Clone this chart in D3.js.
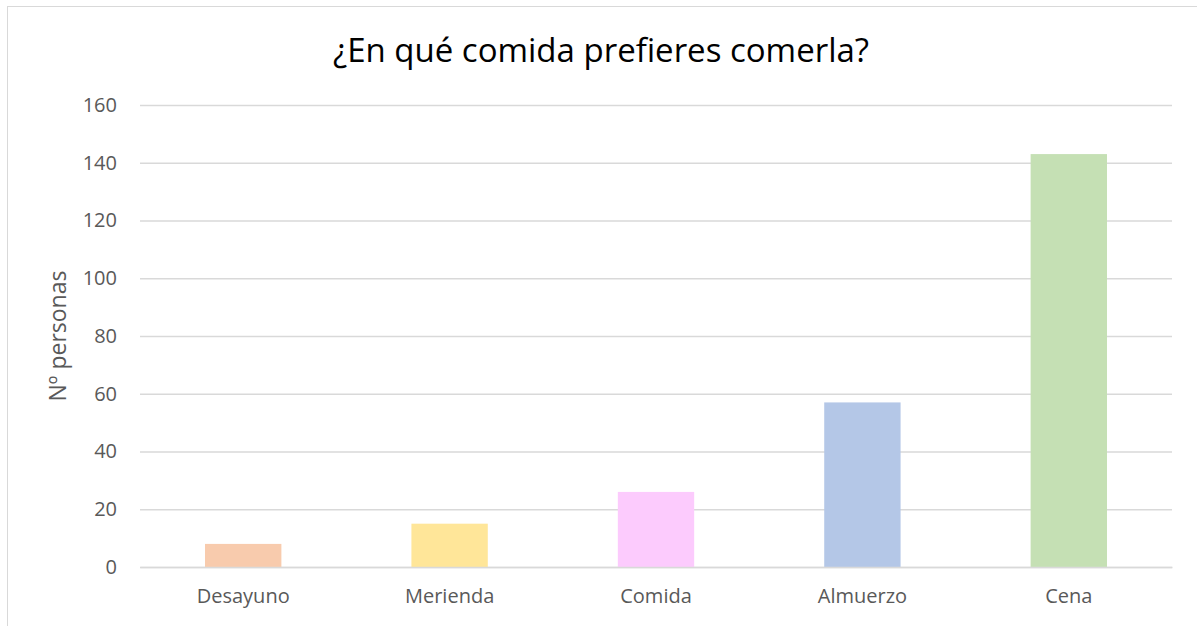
<!DOCTYPE html>
<html>
<head>
<meta charset="utf-8">
<script src="https://cdn.jsdelivr.net/npm/d3@7"></script>
<style>
  body { margin: 0; background: #fff; }
  svg { display: block; }
  svg text { font-family: "Open Sans", "Noto Sans", sans-serif; }
</style>
</head>
<body>
<svg id="chart"></svg>
<script>
const categories = ['Desayuno', 'Merienda', 'Comida', 'Almuerzo', 'Cena'];
const values = [8, 15, 26, 57, 143];
const colors = ['#F8CBAD', '#FFE699', '#FCCBFD', '#B4C7E7', '#C5E0B4'];
const yTicks = [0, 20, 40, 60, 80, 100, 120, 140, 160];

const width = 1197;
const height = 626;
const margin = {top: 105, right: 25, bottom: 59, left: 140};

const svg = d3.select('#chart')
    .attr('width', width)
    .attr('height', height);

// chart frame
svg.append('rect')
    .attr('x', 7.5).attr('y', 6.5)
    .attr('width', width).attr('height', height)
    .attr('fill', '#fff')
    .attr('stroke', '#d9d9d9')
    .attr('stroke-width', 1);

const x = d3.scaleBand()
    .domain(categories)
    .range([margin.left, width - margin.right])
    .paddingInner(0.63)
    .paddingOuter(0.315);

const y = d3.scaleLinear()
    .domain([0, 160])
    .range([height - margin.bottom, margin.top]);

// grid
const yAxis = svg.append('g')
    .attr('transform', `translate(${margin.left}, 0)`)
    .call(d3.axisLeft(y).tickValues(yTicks).tickSize(-(width - margin.left - margin.right)).tickPadding(23));
yAxis.attr('font-family', null).attr('font-size', null);
yAxis.select('.domain').remove();
yAxis.selectAll('.tick line').attr('stroke', '#d9d9d9').attr('stroke-width', 1.3);
yAxis.selectAll('.tick text')
    .attr('fill', '#595959')
    .style('font-size', '20px');

// bars
svg.append('g').selectAll('rect')
    .data(categories)
    .enter().append('rect')
    .attr('x', d => x(d))
    .attr('width', x.bandwidth())
    .attr('y', (d, i) => y(values[i]))
    .attr('height', (d, i) => y(0) - y(values[i]))
    .attr('fill', (d, i) => colors[i]);

// baseline + category labels
const xAxis = svg.append('g')
    .attr('transform', `translate(0, ${height - margin.bottom})`)
    .call(d3.axisBottom(x).tickSize(0).tickPadding(22));
xAxis.attr('font-family', null).attr('font-size', null);
xAxis.select('.domain').attr('stroke', '#d9d9d9').attr('stroke-width', 1.3);
xAxis.selectAll('.tick text')
    .attr('fill', '#595959')
    .style('font-size', '20px');

// title
svg.append('text')
    .attr('x', 601)
    .attr('y', 62)
    .attr('text-anchor', 'middle')
    .attr('fill', '#000')
    .style('font-size', '33px')
    .text('¿En qué comida prefieres comerla?');

// axis title
svg.append('text')
    .attr('transform', `translate(66, 336) rotate(-90)`)
    .attr('text-anchor', 'middle')
    .attr('fill', '#595959')
    .style('font-size', '23px')
    .text('Nº personas');
</script>
</body>
</html>
